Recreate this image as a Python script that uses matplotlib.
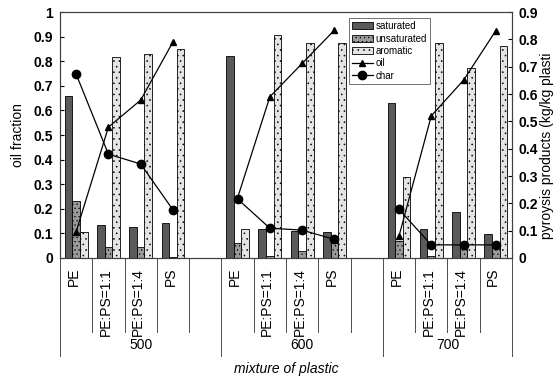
import numpy as np
import matplotlib
matplotlib.use('Agg')
import matplotlib.pyplot as plt

plt.rcParams['font.family'] = ['Liberation Sans', 'DejaVu Sans']
plt.rcParams['hatch.linewidth'] = 0.4

temps = ['500', '600', '700']
mixtures = ['PE', 'PE:PS=1:1', 'PE:PS=1:4', 'PS']

# oil fraction (left axis), order: 500 PE..PS, 600 PE..PS, 700 PE..PS
saturated = [0.66, 0.133, 0.128, 0.144, 0.822, 0.117, 0.108, 0.105, 0.631, 0.117, 0.186, 0.096]
unsaturated = [0.232, 0.046, 0.044, 0.004, 0.06, 0.008, 0.03, 0.06, 0.07, 0.01, 0.04, 0.045]
aromatic = [0.107, 0.816, 0.829, 0.85, 0.117, 0.906, 0.875, 0.873, 0.328, 0.873, 0.771, 0.862]

# pyrolysis products (right axis)
oil = [0.096, 0.479, 0.578, 0.791, 0.22, 0.59, 0.712, 0.834, 0.08, 0.52, 0.651, 0.832]
char = [0.673, 0.38, 0.344, 0.176, 0.216, 0.109, 0.102, 0.068, 0.178, 0.048, 0.048, 0.048]

nslots = len(temps) * (len(mixtures) + 1) - 1
xpos = np.array([g * (len(mixtures) + 1) + j + 0.5
                 for g in range(len(temps)) for j in range(len(mixtures))])

fig = plt.figure(figsize=(5.57, 3.78), dpi=100)
ax = fig.add_axes([0.1077, 0.3175, 0.8115, 0.6505])
ax2 = ax.twinx()

w = 0.235
b1 = ax.bar(xpos - w, saturated, w, color='#5a5a5a', edgecolor='black', linewidth=0.6, label='saturated')
b2 = ax.bar(xpos, unsaturated, w, color='#9a9a9a', edgecolor='black', linewidth=0.6, hatch='....', label='unsaturated')
b3 = ax.bar(xpos + w, aromatic, w, color='#e4e4e4', edgecolor='black', linewidth=0.6, hatch='...', label='aromatic')

n = len(mixtures)
for g in range(len(temps)):
    sl = slice(g * n, (g + 1) * n)
    l1, = ax2.plot(xpos[sl], oil[sl], color='black', lw=0.9, marker='^', ms=5, label='oil')
    l2, = ax2.plot(xpos[sl], char[sl], color='black', lw=0.9, marker='o', ms=6, label='char')

ax.set_xlim(0, nslots)
ax.set_ylim(0, 1)
ax2.set_ylim(0, 0.9)
ax.set_yticks(np.arange(0, 1.01, 0.1))
ax.set_yticklabels(['0'] + ['%.1f' % v for v in np.arange(0.1, 0.95, 0.1)] + ['1'], fontweight='bold')
ax2.set_yticks(np.arange(0, 0.91, 0.1))
ax2.set_yticklabels(['0'] + ['%.1f' % v for v in np.arange(0.1, 0.95, 0.1)], fontweight='bold')
ax.tick_params(axis='y', direction='in', length=3, labelsize=10, pad=5)
ax2.tick_params(axis='y', direction='in', length=3, labelsize=10, pad=5)
ax.set_xticks([])
for a in (ax, ax2):
    for s in a.spines.values():
        s.set_linewidth(0.8)
        s.set_color('0.25')

ax.set_ylabel('oil fraction', fontsize=10, labelpad=6)
fig.text(0.982, 0.615, 'pyroysis products (kg/kg plasti', rotation=90,
         ha='center', va='center', fontsize=10)

# category table under the axis
tr = ax.get_xaxis_transform()
for k in range(nslots + 1):
    ax.plot([k, k], [0, -0.30], transform=tr, color='0.3', lw=0.7, clip_on=False)
for k in [0, 5, 10, nslots]:
    ax.plot([k, k], [-0.30, -0.40], transform=tr, color='0.3', lw=0.7, clip_on=False)
for x, i in zip(xpos, range(len(xpos))):
    ax.text(x - 0.08, -0.04, mixtures[i % n], transform=tr, rotation=90,
            ha='center', va='top', fontsize=10)
for g, t in enumerate(temps):
    left = g * (n + 1)
    right = min(left + n + 1, nslots)
    ax.text((left + right) / 2, -0.355, t, transform=tr, ha='center', va='center', fontsize=10)
ax.text(nslots / 2, -0.45, 'mixture of plastic', transform=tr, ha='center', va='center',
        fontsize=10, style='italic')

handles = [b1, b2, b3, l1, l2]
leg = ax2.legend(handles, [h.get_label() for h in handles], loc='upper left',
                 bbox_to_anchor=(0.64, 0.975), fontsize=7, frameon=True, fancybox=False,
                 borderpad=0.3, labelspacing=0.25, handlelength=2.1, handletextpad=0.3,
                 borderaxespad=0)
leg.get_frame().set_edgecolor('0.3')
leg.get_frame().set_linewidth(0.7)

fig.savefig('out.png', dpi=100)
